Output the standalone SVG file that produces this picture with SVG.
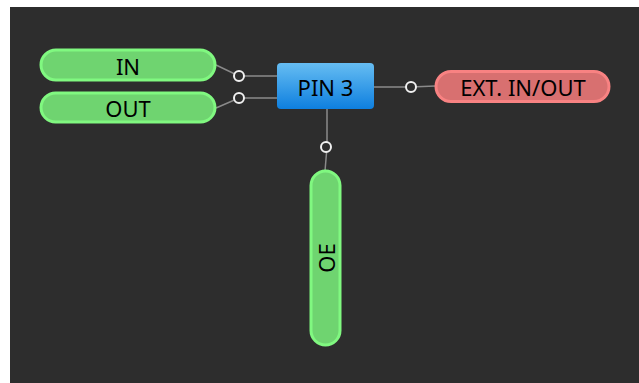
<svg xmlns="http://www.w3.org/2000/svg" width="639" height="383" viewBox="0 0 639 383">
<defs>
<linearGradient id="blue" x1="0" y1="0" x2="0" y2="1">
<stop offset="0" stop-color="#66bdf2"/>
<stop offset="1" stop-color="#0e7fdf"/>
</linearGradient>
<style>
.green{fill:#6fd470;stroke:#80f880;stroke-width:3}
.red{fill:#d87070;stroke:#f88282;stroke-width:3}
.lbl{font-family:"Noto Sans","Open Sans",sans-serif;font-size:22px;fill:#000;text-anchor:middle;dominant-baseline:central}
.wire{stroke:#8a8a8a;stroke-width:1.5;fill:none}
.port{fill:#2d2d2d;stroke:#f0f0f0;stroke-width:2}
</style>
</defs>
<rect x="10" y="7" width="629" height="376" fill="#2d2d2d"/>
<g id="connectors">
<polyline class="wire" points="216,65 239,76 277,76"/>
<polyline class="wire" points="216,108 239,98 277,98"/>
<polyline class="wire" points="374,87 411,87 435,86"/>
<polyline class="wire" points="327,109 327,147 325,171"/>
<circle class="port" cx="239" cy="76" r="5"/>
<circle class="port" cx="239" cy="98" r="5"/>
<circle class="port" cx="411" cy="87" r="5"/>
<circle class="port" cx="326" cy="147" r="5"/>
</g>
<g id="in">
<rect class="green" x="41" y="50" width="174" height="30" rx="15"/>
<text class="lbl" x="128" y="66">IN</text>
</g>
<g id="out">
<rect class="green" x="41" y="93" width="174" height="29" rx="14.5"/>
<text class="lbl" x="128" y="108">OUT</text>
</g>
<g id="pin3">
<rect x="277" y="63" width="97" height="46" rx="4" fill="url(#blue)"/>
<text class="lbl" x="325.5" y="87">PIN 3</text>
</g>
<g id="ext">
<rect class="red" x="436" y="71.5" width="173" height="30" rx="15"/>
<text class="lbl" x="523" y="87">EXT. IN/OUT</text>
</g>
<g id="oe">
<rect class="green" x="311" y="171" width="29" height="174" rx="14.5"/>
<text class="lbl" transform="translate(326,258) rotate(-90)" x="0" y="0">OE</text>
</g>
</svg>
